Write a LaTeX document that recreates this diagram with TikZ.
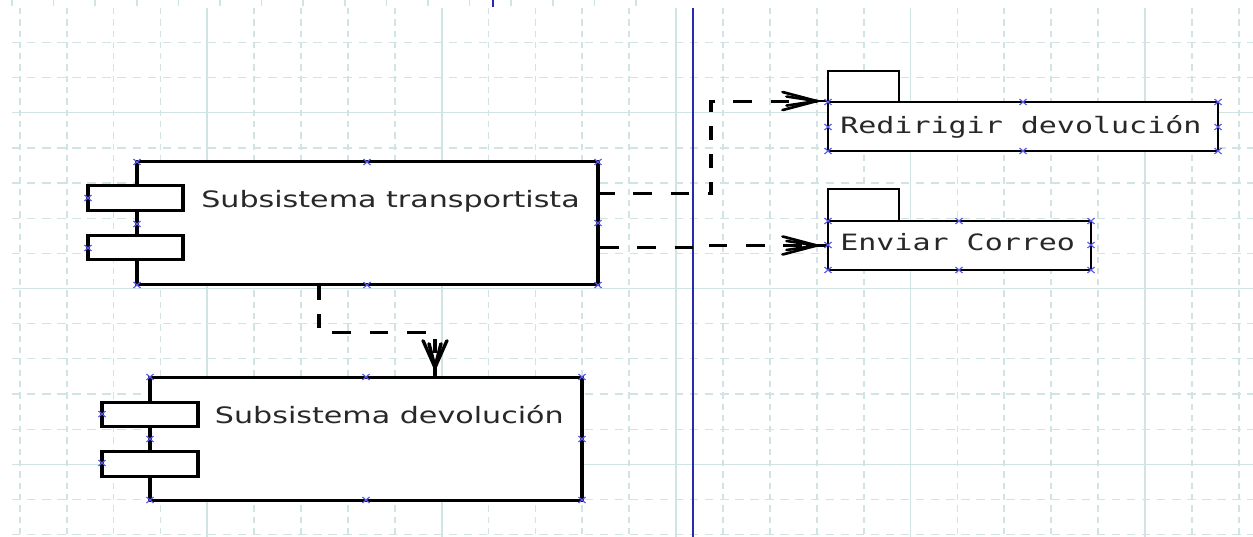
\documentclass[tikz,border=0pt]{standalone}
\usepackage{fontspec}
\usetikzlibrary{calc}
\newfontfamily\dvsans{DejaVu Sans}
\newfontfamily\dvmono{DejaVu Sans Mono}
\definecolor{gridc}{RGB}{210,227,227}
\definecolor{vlinec}{RGB}{40,40,175}
\definecolor{hndc}{RGB}{90,90,240}
\definecolor{txtc}{RGB}{40,40,40}
\tikzset{
  gdash/.style={draw=gridc, line width=1.3pt, dash pattern=on 6.3pt off 5pt},
  gsolid/.style={draw=gridc, line width=1.4pt},
  comp/.style={rectangle, draw=black, line width=3pt, fill=white, inner sep=0pt},
  pkg/.style={rectangle, draw=black, line width=1.9pt, fill=white, inner sep=0pt},
  dep/.style={draw=black, line width=3pt, dash pattern=on 14pt off 14pt},
  headline/.style={draw=black, line width=2.6pt, line cap=round},
  lbl/.style={font=\dvsans\fontsize{22.6}{26}\selectfont, text=txtc, inner sep=0pt, anchor=base west},
  mlbl/.style={font=\dvmono\fontsize{22.5}{26}\selectfont, text=txtc, inner sep=0pt, anchor=base west},
  hnd/.style={draw=hndc, line width=1pt}
}
\begin{document}
\begin{tikzpicture}[x=1pt,y=-1pt]
\useasboundingbox[fill=white] (0,0) rectangle (1253,537);
\begin{scope}[transform canvas={xscale=1.333333}, x=0.75pt, y=-1pt]
  % grid
  \foreach \k in {0,...,26}{
    \pgfmathtruncatemacro\m{mod(\k,5)}
    \ifnum\m=4
      \draw[gsolid] (19.8+46.88*\k,8) -- (19.8+46.88*\k,537);
    \else
      \draw[gdash] (19.8+46.88*\k,8) -- (19.8+46.88*\k,537);
    \fi
  }
  \foreach \k in {0,...,14}{
    \pgfmathtruncatemacro\m{mod(\k,5)}
    \ifnum\m=2
      \draw[gsolid] (12,42.4+35.16*\k) -- (1253,42.4+35.16*\k);
    \else
      \draw[gdash] (12,42.4+35.16*\k) -- (1253,42.4+35.16*\k);
    \fi
  }
  \foreach \xx in {12,53.6,...,660}{
    \draw[gridc, line width=1.3pt] (\xx,0) -- (\xx,6);
  }
  % blue vertical line
  \draw[vlinec, line width=1.5pt] (692.7,8) -- (692.7,537);
  \draw[vlinec, line width=1.5pt] (493.3,0) -- (493.3,7);

  % component: Subsistema transportista
  \node[comp, minimum width=345.75pt, minimum height=123pt] (trans) at (367.5,223.5) {};
  \node[comp, minimum width=71.25pt, minimum height=25pt] (tb1) at (135.5,198.5) {};
  \node[comp, minimum width=71.25pt, minimum height=24pt] (tb2) at (135.5,248) {};
  \node[lbl] (transl) at (201,207.3) {Subsistema transportista};

  % component: Subsistema devolucion
  \node[comp, minimum width=324pt, minimum height=123pt] (dev) at (366,438.5) {};
  \node[comp, minimum width=72pt, minimum height=24pt] (db1) at (150,414) {};
  \node[comp, minimum width=72pt, minimum height=25pt] (db2) at (150,463.5) {};
  \node[lbl] (devl) at (214.7,423.3) {Subsistema devolución};

  % package: Redirigir devolucion
  \node[pkg, minimum width=53.25pt, minimum height=31pt] (rtab) at (863.5,86.5) {};
  \node[pkg, minimum width=292.5pt, minimum height=49pt] (redir) at (1023,126.5) {};
  \node[mlbl] (redirl) at (840,133.3) {Redirigir devolución};

  % package: Enviar Correo
  \node[pkg, minimum width=53.25pt, minimum height=32pt] (etab) at (863.5,205) {};
  \node[pkg, minimum width=197.25pt, minimum height=49pt] (env) at (959.5,245.5) {};
  \node[mlbl] (envl) at (840,251) {Enviar Correo};

  % connectors
  \coordinate (jx) at (710.7,0);
  \coordinate (p1) at ($(redir.north west)+(-10,0)$);
  \coordinate (p2) at ($(env.west)+(-10,0)$);
  \coordinate (t3) at ($(dev.north)+(69,0)$);
  \coordinate (p3) at ($(t3)+(0,-8)$);

  \draw[dep, dash phase=3pt] ([yshift=29.5pt]trans.east) -| (jx |- p1) -- (p1);
  \draw[dep] ([yshift=-24.5pt]trans.east) -| (jx |- p2) -- (p2);
  \draw[dep] ([xshift=-36.4pt]trans.south) -- ++(0,46) -| (p3);

  % arrow heads
  \draw[headline] (p1) -- (redir.north west);
  \draw[headline] ($(p1)+(-34,-9)$) -- (p1) -- ($(p1)+(-34,9)$);
  \draw[headline] ($(p1)+(-30,-4.5)$) -- (p1) -- ($(p1)+(-30,4.5)$);

  \draw[headline] (p2) -- (env.west);
  \draw[headline] ($(p2)+(-34,-9)$) -- (p2) -- ($(p2)+(-34,9)$);
  \draw[headline] ($(p2)+(-30,-4.5)$) -- (p2) -- ($(p2)+(-30,4.5)$);

  \draw[headline] (p3) -- (t3);
  \draw[headline] ($(p3)+(-12,-27)$) -- (p3) -- ($(p3)+(12,-27)$);
  \draw[headline] ($(p3)+(-6,-24)$) -- (p3) -- ($(p3)+(6,-24)$);

  % handle marks
  \foreach \a/\b in {137/162, 367/162, 598/162, 137/285, 367/285, 598/285, 598/223, 137/224, 88/198, 88/248,
                     150/377, 366/377, 582/377, 150/500, 366/500, 582/500, 582/439, 150/439, 102/414, 102/463,
                     828/102, 1023/102, 1218/102, 828/151, 1023/151, 1218/151, 828/127, 1218/127,
                     828/221, 959/221, 1091/221, 828/270, 959/270, 1091/270, 828/245, 1091/245}{
    \draw[hnd] (\a-3.5,\b-3) -- (\a+3.5,\b+3) (\a-3.5,\b+3) -- (\a+3.5,\b-3);
  }
\end{scope}
\end{tikzpicture}
\end{document}
